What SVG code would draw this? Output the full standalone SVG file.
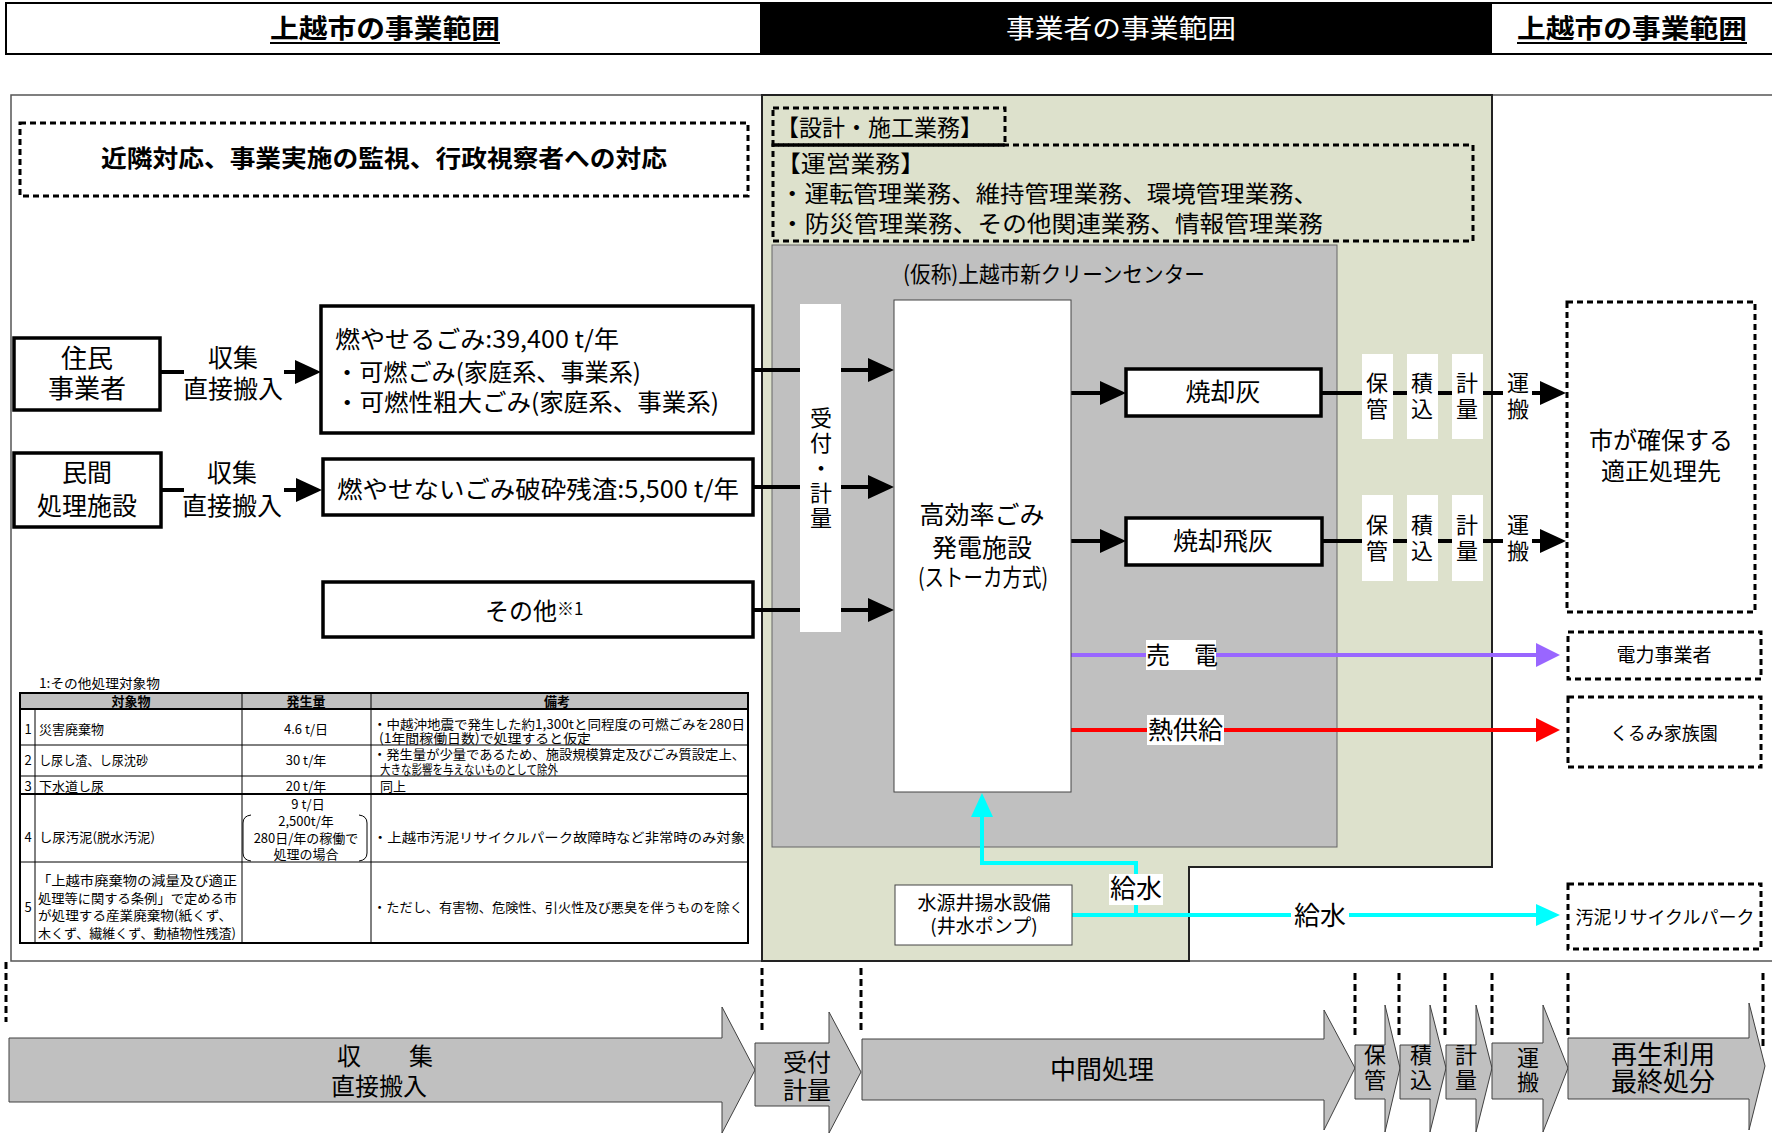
<svg xmlns="http://www.w3.org/2000/svg" width="1772" height="1135" viewBox="0 0 1772 1135">
<style>
text { font-family: "Noto Sans CJK JP", "Noto Sans", sans-serif; fill:#000; }
.b { font-weight:bold; }
.m { text-anchor:middle; }
.wt { fill:#fff; }
.v { writing-mode:vertical-rl; font-size:22px; }
.dash { fill:none; stroke:#000; stroke-width:3; stroke-dasharray:6 4; }
.box { fill:#fff; stroke:#000; stroke-width:3.5; }
.thin { fill:#fff; stroke:#444; stroke-width:1; }
.blk { stroke:#000; stroke-width:4; fill:none; }
.vd { stroke:#000; stroke-width:3; stroke-dasharray:7 4; }
.barrow { fill:#c0c0c0; stroke:#404040; stroke-width:1; }
.col { fill:#fff; stroke:none; }
.tl { stroke:#000; stroke-width:1; }
.tk { stroke:#000; stroke-width:2; }
.f13 { font-size:13px; }
.f22 { font-size:22px; }
.f24 { font-size:24px; }
.f25 { font-size:25px; }
.f26 { font-size:26px; }
</style>
<defs>
<marker id="ah" markerUnits="userSpaceOnUse" markerWidth="26" markerHeight="26" viewBox="0 0 26 26" refX="18" refY="13" orient="auto"><path d="M0,1 L26,13 L0,25 z" fill="#000"/></marker>
<marker id="ahp" markerUnits="userSpaceOnUse" markerWidth="24" markerHeight="26" viewBox="0 0 24 26" refX="16" refY="13" orient="auto"><path d="M0,1 L24,13 L0,25 z" fill="#9966ff"/></marker>
<marker id="ahr" markerUnits="userSpaceOnUse" markerWidth="24" markerHeight="26" viewBox="0 0 24 26" refX="16" refY="13" orient="auto"><path d="M0,1 L24,13 L0,25 z" fill="#ff0000"/></marker>
<marker id="ahc" markerUnits="userSpaceOnUse" markerWidth="24" markerHeight="26" viewBox="0 0 24 26" refX="16" refY="13" orient="auto"><path d="M0,2 L24,13 L0,24 z" fill="#00ffff"/></marker>
</defs>

<g id="header">
<rect x="6" y="3" width="1780" height="51" fill="#fff" stroke="#000" stroke-width="2"/>
<rect x="760" y="3" width="732" height="51" fill="#000"/>
<text class="b f26" x="270" y="38" textLength="230" lengthAdjust="spacingAndGlyphs">上越市の事業範囲</text>
<line x1="270" y1="43" x2="500" y2="43" stroke="#000" stroke-width="2"/>
<text class="wt f26" x="1006" y="38" textLength="230" lengthAdjust="spacingAndGlyphs">事業者の事業範囲</text>
<text class="b f26" x="1517" y="38" textLength="230" lengthAdjust="spacingAndGlyphs">上越市の事業範囲</text>
<line x1="1517" y1="43" x2="1747" y2="43" stroke="#000" stroke-width="2"/>
</g>

<g id="frame">
<rect x="11" y="95" width="1780" height="866" fill="#fff" stroke="#555" stroke-width="1.5"/>
<polygon points="762,95 1492,95 1492,867 1189,867 1189,961 762,961" fill="#dde1cc" stroke="#222" stroke-width="2"/>
<rect x="772" y="245" width="565" height="602" fill="#c0c0c0" stroke="#666" stroke-width="1"/>
<text class="f22" x="903" y="282" textLength="302" lengthAdjust="spacingAndGlyphs">(仮称)上越市新クリーンセンター</text>
</g>

<g id="city-tasks">
<rect class="dash" x="20" y="123" width="728" height="73"/>
<text class="b f24" x="101" y="167" textLength="566" lengthAdjust="spacingAndGlyphs">近隣対応、事業実施の監視、行政視察者への対応</text>
</g>

<g id="design-tasks">
<rect class="dash" x="773" y="108" width="232" height="37"/>
<text style="font-size:23px" x="776" y="136" textLength="207" lengthAdjust="spacingAndGlyphs">【設計・施工業務】</text>
</g>
<g id="operation-tasks">
<rect class="dash" x="773" y="145" width="700" height="96"/>
<line x1="773" y1="145" x2="1005" y2="145" stroke="#000" stroke-width="3"/>
<text style="font-size:23px"><tspan x="776" y="172" textLength="149" lengthAdjust="spacingAndGlyphs">【運営業務】</tspan><tspan x="780" y="202" textLength="538" lengthAdjust="spacingAndGlyphs">・運転管理業務、維持管理業務、環境管理業務、</tspan><tspan x="780" y="232" textLength="543" lengthAdjust="spacingAndGlyphs">・防災管理業務、その他関連業務、情報管理業務</tspan></text>
</g>

<g id="connectors">
<line class="blk" x1="160" y1="372" x2="184" y2="372"/>
<line class="blk" x1="284" y1="372" x2="313" y2="372" marker-end="url(#ah)"/>
<line class="blk" x1="161" y1="490" x2="184" y2="490"/>
<line class="blk" x1="284" y1="490" x2="314" y2="490" marker-end="url(#ah)"/>
<line class="blk" x1="753" y1="370" x2="886" y2="370" marker-end="url(#ah)"/>
<line class="blk" x1="753" y1="487" x2="886" y2="487" marker-end="url(#ah)"/>
<line class="blk" x1="753" y1="610" x2="886" y2="610" marker-end="url(#ah)"/>
<line class="blk" x1="1071" y1="393" x2="1118" y2="393" marker-end="url(#ah)"/>
<line class="blk" x1="1071" y1="541" x2="1118" y2="541" marker-end="url(#ah)"/>
<line class="blk" x1="1321" y1="393" x2="1503" y2="393"/>
<line class="blk" x1="1532" y1="393" x2="1558" y2="393" marker-end="url(#ah)"/>
<line class="blk" x1="1322" y1="541" x2="1503" y2="541"/>
<line class="blk" x1="1532" y1="541" x2="1558" y2="541" marker-end="url(#ah)"/>
<line x1="1071" y1="655" x2="1552" y2="655" stroke="#9966ff" stroke-width="4" marker-end="url(#ahp)"/>
<line x1="1071" y1="730" x2="1552" y2="730" stroke="#ff0000" stroke-width="4" marker-end="url(#ahr)"/>
<polyline points="1136,915 1136,863 982,863 982,801" fill="none" stroke="#00ffff" stroke-width="4" marker-end="url(#ahc)"/>
<line x1="1072" y1="915" x2="1552" y2="915" stroke="#00ffff" stroke-width="4" marker-end="url(#ahc)"/>
<rect x="1146" y="640" width="70" height="30" fill="#fff"/>
<text class="f24" x="1146" y="664">売　電</text>
<rect x="1147" y="715" width="77" height="30" fill="#fff"/>
<text class="f25" x="1148" y="739" textLength="75" lengthAdjust="spacingAndGlyphs">熱供給</text>
<rect x="1109" y="874" width="54" height="31" fill="#fff"/>
<text class="f26 m" x="1136" y="898">給水</text>
<rect x="1291" y="902" width="58" height="28" fill="#fff"/>
<text class="f26 m" x="1320" y="925">給水</text>
</g>

<g id="node-jumin">
<rect class="box" x="14" y="338" width="146" height="72"/>
<text class="f26 m"><tspan x="87" y="368">住民</tspan><tspan x="87" y="398">事業者</tspan></text>
</g>
<g id="label-collect1">
<text class="f25 m"><tspan x="233" y="367">収集</tspan><tspan x="233" y="398">直接搬入</tspan></text>
</g>
<g id="node-minkan">
<rect class="box" x="14" y="453" width="147" height="74"/>
<text class="f25 m"><tspan x="87" y="482">民間</tspan><tspan x="87" y="515">処理施設</tspan></text>
</g>
<g id="label-collect2">
<text class="f25 m"><tspan x="232" y="482">収集</tspan><tspan x="232" y="515">直接搬入</tspan></text>
</g>
<g id="node-moyaseru">
<rect class="box" x="321" y="306" width="432" height="127"/>
<text class="f24"><tspan x="335" y="348" textLength="284" lengthAdjust="spacingAndGlyphs">燃やせるごみ:39,400 t/年</tspan><tspan x="335" y="381" textLength="306" lengthAdjust="spacingAndGlyphs">・可燃ごみ(家庭系、事業系)</tspan><tspan x="335" y="411" textLength="384" lengthAdjust="spacingAndGlyphs">・可燃性粗大ごみ(家庭系、事業系)</tspan></text>
</g>
<g id="node-moyasenai">
<rect class="box" x="323" y="459" width="430" height="56"/>
<text class="f24" x="337" y="498" textLength="402" lengthAdjust="spacingAndGlyphs">燃やせないごみ破砕残渣:5,500 t/年</text>
</g>
<g id="node-sonota">
<rect class="box" x="323" y="582" width="430" height="55"/>
<text class="f24" x="485" y="620">その他<tspan style="font-size:17px" dy="-5">※1</tspan></text>
</g>

<g id="node-uketsuke">
<rect class="col" x="800" y="304" width="41" height="328"/>
<text class="v" x="821" y="407" style="letter-spacing:3px">受付・計量</text>
</g>
<g id="node-plant">
<rect class="thin" x="894" y="300" width="177" height="492"/>
<text class="f25 m"><tspan x="982" y="524">高効率ごみ</tspan><tspan x="982" y="557">発電施設</tspan><tspan x="983" y="586" class="f24" textLength="130" lengthAdjust="spacingAndGlyphs">(ストーカ方式)</tspan></text>
</g>
<g id="node-ash">
<rect class="box" x="1126" y="369" width="195" height="47"/>
<text class="f25 m" x="1223" y="401">焼却灰</text>
</g>
<g id="node-flyash">
<rect class="box" x="1126" y="518" width="196" height="47"/>
<text class="f25 m" x="1223" y="550">焼却飛灰</text>
</g>
<g id="steps-ash">
<rect class="col" x="1362" y="354" width="31" height="85"/>
<rect class="col" x="1407" y="354" width="31" height="85"/>
<rect class="col" x="1452" y="354" width="31" height="85"/>
<rect class="col" x="1503" y="375" width="28" height="45"/>
<text class="v" x="1377" y="372" style="letter-spacing:4px">保管</text>
<text class="v" x="1422" y="372" style="letter-spacing:4px">積込</text>
<text class="v" x="1467" y="372" style="letter-spacing:4px">計量</text>
<text class="v" x="1518" y="372" style="letter-spacing:4px">運搬</text>
</g>
<g id="steps-flyash">
<rect class="col" x="1362" y="495" width="31" height="86"/>
<rect class="col" x="1407" y="495" width="31" height="86"/>
<rect class="col" x="1452" y="495" width="31" height="86"/>
<rect class="col" x="1503" y="515" width="28" height="50"/>
<text class="v" x="1377" y="514" style="letter-spacing:4px">保管</text>
<text class="v" x="1422" y="514" style="letter-spacing:4px">積込</text>
<text class="v" x="1467" y="514" style="letter-spacing:4px">計量</text>
<text class="v" x="1518" y="514" style="letter-spacing:4px">運搬</text>
</g>
<g id="node-disposal">
<rect class="dash" x="1567" y="302" width="188" height="310"/>
<text class="f24 m"><tspan x="1661" y="449">市が確保する</tspan><tspan x="1661" y="480">適正処理先</tspan></text>
</g>
<g id="node-power">
<rect class="dash" x="1568" y="632" width="193" height="47"/>
<text class="m" style="font-size:19px" x="1664" y="662">電力事業者</text>
</g>
<g id="node-kurumi">
<rect class="dash" x="1568" y="697" width="193" height="70"/>
<text class="m" style="font-size:18px" x="1664" y="740">くるみ家族園</text>
</g>
<g id="node-well">
<rect class="thin" x="895" y="885" width="177" height="60"/>
<text class="m" style="font-size:19px"><tspan x="984" y="910">水源井揚水設備</tspan><tspan x="984" y="933">(井水ポンプ)</tspan></text>
</g>
<g id="node-sludge">
<rect class="dash" x="1568" y="884" width="193" height="65"/>
<text class="m" style="font-size:18px" x="1665" y="924">汚泥リサイクルパーク</text>
</g>

<g id="table">
<text class="f13" x="39" y="688" textLength="121" lengthAdjust="spacingAndGlyphs">1:その他処理対象物</text>
<rect x="20" y="693" width="728" height="16" fill="#c0c0c0"/>
<rect x="20" y="693" width="728" height="250" fill="none" stroke="#000" stroke-width="2"/>
<line class="tk" x1="20" y1="709" x2="748" y2="709"/>
<line class="tl" x1="20" y1="745" x2="748" y2="745"/>
<line class="tl" x1="20" y1="776" x2="748" y2="776"/>
<line class="tk" x1="20" y1="794" x2="748" y2="794"/>
<line class="tl" x1="20" y1="862" x2="748" y2="862"/>
<line class="tl" x1="35" y1="709" x2="35" y2="943"/>
<line class="tl" x1="242" y1="693" x2="242" y2="943"/>
<line class="tl" x1="371" y1="693" x2="371" y2="943"/>
<text class="f13 b m" x="131" y="706">対象物</text>
<text class="f13 b m" x="306" y="706">発生量</text>
<text class="f13 b m" x="557" y="706">備考</text>
<text class="f13 m" x="28" y="734">1</text>
<text class="f13" x="39" y="734">災害廃棄物</text>
<text class="f13 m" x="306" y="734">4.6 t/日</text>
<text class="f13"><tspan x="373" y="729" textLength="372" lengthAdjust="spacingAndGlyphs">・中越沖地震で発生した約1,300tと同程度の可燃ごみを280日</tspan><tspan x="379" y="743" textLength="212" lengthAdjust="spacingAndGlyphs">(1年間稼働日数)で処理すると仮定</tspan></text>
<text class="f13 m" x="28" y="765">2</text>
<text class="f13" x="39" y="765" textLength="109" lengthAdjust="spacingAndGlyphs">し尿し渣、し尿沈砂</text>
<text class="f13 m" x="306" y="765">30 t/年</text>
<text class="f13"><tspan x="373" y="759" textLength="372" lengthAdjust="spacingAndGlyphs">・発生量が少量であるため、施設規模算定及びごみ質設定上、</tspan><tspan x="380" y="774" textLength="178" lengthAdjust="spacingAndGlyphs">大きな影響を与えないものとして除外</tspan></text>
<text class="f13 m" x="28" y="791">3</text>
<text class="f13" x="39" y="791">下水道し尿</text>
<text class="f13 m" x="306" y="791">20 t/年</text>
<text class="f13" x="380" y="791">同上</text>
<text class="f13 m" x="28" y="842">4</text>
<text class="f13" x="39" y="842" textLength="116" lengthAdjust="spacingAndGlyphs">し尿汚泥(脱水汚泥)</text>
<text class="f13 m"><tspan x="308" y="809">9 t/日</tspan><tspan x="306" y="826">2,500t/年</tspan><tspan x="306" y="843">280日/年の稼働で</tspan><tspan x="306" y="859">処理の場合</tspan></text>
<path d="M251,815 Q243,816 243,823 L243,853 Q243,860 251,861" fill="none" stroke="#000" stroke-width="1"/>
<path d="M359,815 Q367,816 367,823 L367,853 Q367,860 359,861" fill="none" stroke="#000" stroke-width="1"/>
<text class="f13" x="373" y="842" textLength="372" lengthAdjust="spacingAndGlyphs">・上越市汚泥リサイクルパーク故障時など非常時のみ対象</text>
<text class="f13 m" x="28" y="912">5</text>
<text class="f13"><tspan x="37" y="885" textLength="200" lengthAdjust="spacingAndGlyphs">「上越市廃棄物の減量及び適正</tspan><tspan x="38" y="903" textLength="199" lengthAdjust="spacingAndGlyphs">処理等に関する条例」で定める市</tspan><tspan x="38" y="920" textLength="194" lengthAdjust="spacingAndGlyphs">が処理する産業廃棄物(紙くず、</tspan><tspan x="38" y="938" textLength="198" lengthAdjust="spacingAndGlyphs">木くず、繊維くず、動植物性残渣)</tspan></text>
<text class="f13" x="373" y="912" textLength="370" lengthAdjust="spacingAndGlyphs">・ただし、有害物、危険性、引火性及び悪臭を伴うものを除く</text>
</g>

<g id="dividers">
<line class="vd" x1="6" y1="962" x2="6" y2="1022"/>
<line class="vd" x1="762" y1="968" x2="762" y2="1030"/>
<line class="vd" x1="861" y1="968" x2="861" y2="1030"/>
<line class="vd" x1="1355" y1="973" x2="1355" y2="1036"/>
<line class="vd" x1="1399" y1="973" x2="1399" y2="1036"/>
<line class="vd" x1="1445" y1="973" x2="1445" y2="1036"/>
<line class="vd" x1="1492" y1="973" x2="1492" y2="1036"/>
<line class="vd" x1="1568" y1="973" x2="1568" y2="1036"/>
<line class="vd" x1="1763" y1="973" x2="1763" y2="1050"/>
</g>

<g id="stage-collect">
<polygon class="barrow" points="9,1038 722,1038 722,1007 755,1070 722,1133 722,1102 9,1102"/>
<text class="f24 m"><tspan x="385" y="1065">収　　集</tspan><tspan x="379" y="1095">直接搬入</tspan></text>
</g>
<g id="stage-receive">
<polygon class="barrow" points="755,1043 829,1043 829,1012 861,1072 829,1133 829,1106 755,1106"/>
<text class="f24 m"><tspan x="807" y="1071">受付</tspan><tspan x="807" y="1099">計量</tspan></text>
</g>
<g id="stage-process">
<polygon class="barrow" points="862,1039 1324,1039 1324,1010 1355,1068 1324,1130 1324,1100 862,1100"/>
<text class="f26 m" x="1102" y="1079">中間処理</text>
</g>
<g id="stage-store">
<polygon class="barrow" points="1355,1045 1385,1045 1385,1005 1400,1068 1385,1132 1385,1099 1355,1099"/>
<text class="v" x="1375" y="1044" style="letter-spacing:3px">保管</text>
</g>
<g id="stage-load">
<polygon class="barrow" points="1400,1045 1430,1045 1430,1005 1446,1068 1430,1132 1430,1099 1400,1099"/>
<text class="v" x="1421" y="1044" style="letter-spacing:3px">積込</text>
</g>
<g id="stage-weigh">
<polygon class="barrow" points="1446,1045 1476,1045 1476,1005 1492,1068 1476,1132 1476,1099 1446,1099"/>
<text class="v" x="1466" y="1044" style="letter-spacing:3px">計量</text>
</g>
<g id="stage-transport">
<polygon class="barrow" points="1492,1043 1543,1043 1543,1005 1568,1068 1543,1132 1543,1099 1492,1099"/>
<text class="v" x="1528" y="1047" style="letter-spacing:2px">運搬</text>
</g>
<g id="stage-final">
<polygon class="barrow" points="1568,1038 1749,1038 1749,1003 1765,1066 1749,1130 1749,1099 1568,1099"/>
<text class="f26 m"><tspan x="1663" y="1064">再生利用</tspan><tspan x="1663" y="1091">最終処分</tspan></text>
</g>
</svg>
